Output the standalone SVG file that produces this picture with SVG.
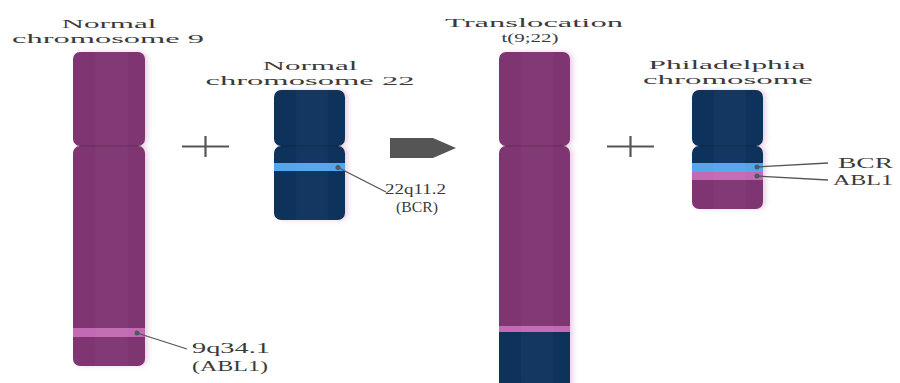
<svg xmlns="http://www.w3.org/2000/svg" width="900" height="383" viewBox="0 0 900 383">
  <defs>
    <style>
      .lbl { font-family: "Liberation Serif", "DejaVu Serif", serif; font-size: 14.5px; fill: #3a3a3a; }
      .ttl { font-family: "Liberation Serif", "DejaVu Serif", serif; font-size: 13.5px; fill: #3a3a3a; }
      .purple { fill: #7f3672; }
      .navy { fill: #07305c; }
      .bcr { fill: #52a6ee; }
      .abl { fill: #c26bb4; }
      .sign { stroke: #555; stroke-width: 2.2; fill: none; }
      .lead { stroke: #555; stroke-width: 1.3; fill: none; }
      .dot { fill: #505860; }
      .seam { stroke: #000; stroke-opacity: 0.18; stroke-width: 1; }
    </style>
    <!-- soft glow to the right of each chromosome -->
    <filter id="soft" x="-20%" y="-5%" width="150%" height="110%">
      <feGaussianBlur in="SourceAlpha" stdDeviation="2.5" result="b"/>
      <feOffset dx="3" dy="0" in="b" result="o"/>
      <feFlood flood-color="#b06aa6" flood-opacity="0.3"/>
      <feComposite in2="o" operator="in" result="s"/>
      <feMerge><feMergeNode in="s"/><feMergeNode in="SourceGraphic"/></feMerge>
    </filter>
    <!-- faint vertical shading across the chromatid -->
    <linearGradient id="shade" x1="0" y1="0" x2="1" y2="0">
      <stop offset="0" stop-color="#fff" stop-opacity="0"/>
      <stop offset="0.3" stop-color="#fff" stop-opacity="0"/>
      <stop offset="0.32" stop-color="#fff" stop-opacity="0.025"/>
      <stop offset="0.75" stop-color="#fff" stop-opacity="0.025"/>
      <stop offset="0.77" stop-color="#fff" stop-opacity="0"/>
      <stop offset="1" stop-color="#fff" stop-opacity="0"/>
    </linearGradient>
    <clipPath id="clipTrans"><rect x="499" y="146" width="71" height="260" rx="7"/></clipPath>
    <clipPath id="clipPh"><rect x="692" y="146" width="71" height="63" rx="7"/></clipPath>
    <clipPath id="clip22"><rect x="274" y="146" width="71" height="74" rx="7"/></clipPath>
    <clipPath id="clip9"><rect x="73" y="146" width="72" height="220" rx="7"/></clipPath>
  </defs>

  <rect width="900" height="383" fill="#fff"/>

  <!-- Normal chromosome 9 -->
  <g id="chr9">
    <text class="ttl" x="109" y="28" text-anchor="middle" textLength="95" lengthAdjust="spacingAndGlyphs">Normal</text>
    <text class="ttl" x="108" y="43" text-anchor="middle" textLength="192" lengthAdjust="spacingAndGlyphs">chromosome 9</text>
    <g filter="url(#soft)">
      <rect class="purple" x="73" y="52" width="72" height="94" rx="7"/>
      <g clip-path="url(#clip9)">
        <rect class="purple" x="73" y="146" width="72" height="220"/>
        <rect class="abl" x="73" y="328" width="72" height="9"/>
      </g>
    </g>
    <line class="seam" x1="76" y1="146" x2="142" y2="146"/>
    <rect x="73" y="52" width="72" height="314" fill="url(#shade)"/>
  </g>

  <!-- Normal chromosome 22 -->
  <g id="chr22">
    <text class="ttl" x="310" y="70" text-anchor="middle" textLength="95" lengthAdjust="spacingAndGlyphs">Normal</text>
    <text class="ttl" x="310" y="85" text-anchor="middle" textLength="209" lengthAdjust="spacingAndGlyphs">chromosome 22</text>
    <g filter="url(#soft)">
      <rect class="navy" x="274" y="90" width="71" height="56" rx="7"/>
      <g clip-path="url(#clip22)">
        <rect class="navy" x="274" y="146" width="71" height="74"/>
        <rect class="bcr" x="274" y="163" width="71" height="8"/>
      </g>
    </g>
    <line class="seam" x1="277" y1="146" x2="342" y2="146"/>
    <rect x="274" y="90" width="71" height="130" fill="url(#shade)"/>
  </g>

  <!-- Translocation t(9;22) -->
  <g id="translocation">
    <text class="ttl" x="534" y="27" text-anchor="middle" textLength="178" lengthAdjust="spacingAndGlyphs">Translocation</text>
    <text class="ttl" x="530" y="42" text-anchor="middle" textLength="57" lengthAdjust="spacingAndGlyphs">t(9;22)</text>
    <g filter="url(#soft)">
      <rect class="purple" x="499" y="52" width="71" height="94" rx="7"/>
      <g clip-path="url(#clipTrans)">
        <rect class="purple" x="499" y="146" width="71" height="181"/>
        <rect class="abl" x="499" y="326" width="71" height="6"/>
        <rect class="navy" x="499" y="332" width="71" height="80"/>
      </g>
    </g>
    <line class="seam" x1="502" y1="146" x2="567" y2="146"/>
    <rect x="499" y="52" width="71" height="331" fill="url(#shade)"/>
  </g>

  <!-- Philadelphia chromosome -->
  <g id="philadelphia">
    <text class="ttl" x="727" y="69" text-anchor="middle" textLength="157" lengthAdjust="spacingAndGlyphs">Philadelphia</text>
    <text class="ttl" x="728" y="84" text-anchor="middle" textLength="170" lengthAdjust="spacingAndGlyphs">chromosome</text>
    <g filter="url(#soft)">
      <rect class="navy" x="692" y="90" width="71" height="56" rx="7"/>
      <g clip-path="url(#clipPh)">
        <rect class="navy" x="692" y="146" width="71" height="17"/>
        <rect class="bcr" x="692" y="163" width="71" height="9"/>
        <rect class="abl" x="692" y="172" width="71" height="8"/>
        <rect class="purple" x="692" y="180" width="71" height="30"/>
      </g>
    </g>
    <line class="seam" x1="695" y1="146" x2="760" y2="146"/>
    <rect x="692" y="90" width="71" height="119" fill="url(#shade)"/>
  </g>

  <!-- plus signs and transition arrow -->
  <g id="plus1">
    <path class="sign" d="M182 146.5H229M205.5 136V157"/>
  </g>
  <g id="plus2">
    <path class="sign" d="M607 146.5H654M630.5 136V157"/>
  </g>
  <g id="arrow">
    <polygon points="390,138 433,138 456,148 433,158 390,158" fill="#555"/>
  </g>

  <!-- band labels -->
  <g id="labels">
    <text class="lbl" x="385" y="194" textLength="61" lengthAdjust="spacingAndGlyphs">22q11.2</text>
    <text class="lbl" x="396" y="212" textLength="42" lengthAdjust="spacingAndGlyphs">(BCR)</text>
    <text class="lbl" x="192" y="353" textLength="78" lengthAdjust="spacingAndGlyphs">9q34.1</text>
    <text class="lbl" x="192" y="371" textLength="76" lengthAdjust="spacingAndGlyphs">(ABL1)</text>
    <text class="lbl" x="838" y="168" textLength="55" lengthAdjust="spacingAndGlyphs">BCR</text>
    <text class="lbl" x="833" y="185" textLength="60" lengthAdjust="spacingAndGlyphs">ABL1</text>
  </g>

  <!-- leader lines -->
  <g id="connectors">
    <path class="lead" d="M338 167.5L386 192"/>
    <circle class="dot" cx="338" cy="167.5" r="2.5"/>
    <path class="lead" d="M137 333L187 349"/>
    <circle class="dot" cx="137" cy="333" r="2.5"/>
    <path class="lead" d="M757 167L828 163"/>
    <circle class="dot" cx="757" cy="167" r="2.5"/>
    <path class="lead" d="M757 176L828 180"/>
    <circle class="dot" cx="757" cy="176" r="2.5"/>
  </g>
</svg>
